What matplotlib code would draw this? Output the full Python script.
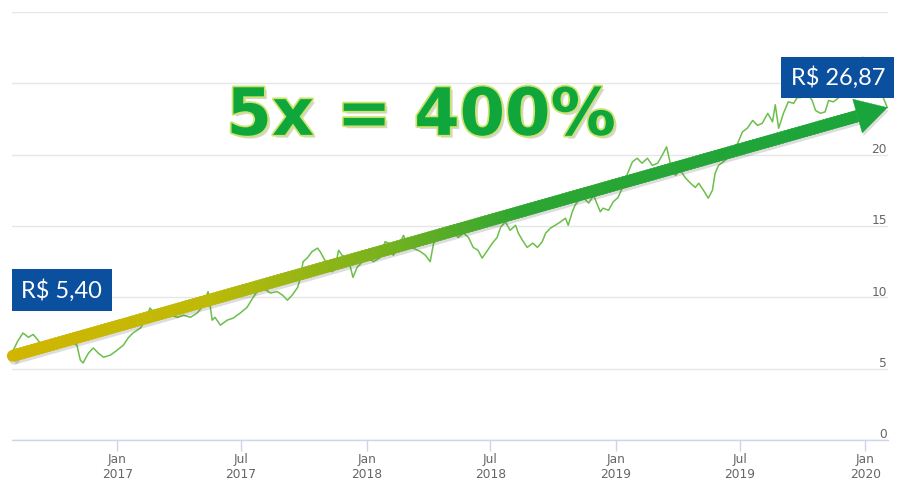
import matplotlib
matplotlib.use("Agg")
import matplotlib.pyplot as plt
import matplotlib.dates as mdates
import matplotlib.patheffects as pe
from matplotlib.transforms import IdentityTransform, blended_transform_factory
from matplotlib.collections import PolyCollection
from matplotlib.patches import Polygon, Circle
import numpy as np
import pandas as pd

dates = [
    "2016-08-01", "2016-08-08", "2016-08-16", "2016-08-24", "2016-08-31", "2016-09-07", "2016-09-15",
    "2016-09-25", "2016-10-05", "2016-10-14", "2016-10-24", "2016-11-03", "2016-11-08", "2016-11-12",
    "2016-11-20", "2016-11-27", "2016-12-04", "2016-12-12", "2016-12-22", "2017-01-01", "2017-01-10",
    "2017-01-17", "2017-01-24", "2017-02-04", "2017-02-11", "2017-02-18", "2017-03-01", "2017-03-09",
    "2017-03-20", "2017-03-30", "2017-04-08", "2017-04-18", "2017-04-28", "2017-05-05", "2017-05-14",
    "2017-05-20", "2017-05-24", "2017-06-01", "2017-06-11", "2017-06-20", "2017-06-30", "2017-07-10",
    "2017-07-19", "2017-07-26", "2017-08-03", "2017-08-13", "2017-08-23", "2017-08-31", "2017-09-07",
    "2017-09-14", "2017-09-22", "2017-09-26", "2017-09-30", "2017-10-06", "2017-10-13", "2017-10-21",
    "2017-10-25", "2017-11-01", "2017-11-06", "2017-11-12", "2017-11-16", "2017-11-21", "2017-11-26",
    "2017-12-01", "2017-12-05", "2017-12-12", "2017-12-18", "2017-12-26", "2018-01-03", "2018-01-11",
    "2018-01-21", "2018-01-28", "2018-02-02", "2018-02-09", "2018-02-16", "2018-02-24", "2018-03-03",
    "2018-03-10", "2018-03-21", "2018-03-28", "2018-04-04", "2018-04-09", "2018-04-16", "2018-04-26",
    "2018-05-08", "2018-05-15", "2018-05-23", "2018-05-30", "2018-06-06", "2018-06-13", "2018-06-19",
    "2018-06-27", "2018-07-04", "2018-07-11", "2018-07-16", "2018-07-23", "2018-07-30", "2018-08-07",
    "2018-08-11", "2018-08-17", "2018-08-24", "2018-09-01", "2018-09-08", "2018-09-15", "2018-09-20",
    "2018-09-27", "2018-10-04", "2018-10-12", "2018-10-19", "2018-10-23", "2018-10-29", "2018-11-02",
    "2018-11-07", "2018-11-14", "2018-11-22", "2018-11-29", "2018-12-05", "2018-12-09", "2018-12-13",
    "2018-12-21", "2018-12-28", "2019-01-04", "2019-01-10", "2019-01-18", "2019-01-25", "2019-02-01",
    "2019-02-08", "2019-02-16", "2019-02-23", "2019-03-03", "2019-03-10", "2019-03-16", "2019-03-22",
    "2019-03-29", "2019-04-05", "2019-04-13", "2019-04-20", "2019-04-27", "2019-05-02", "2019-05-09",
    "2019-05-16", "2019-05-22", "2019-05-26", "2019-05-31", "2019-06-07", "2019-06-14", "2019-06-20",
    "2019-06-28", "2019-07-05", "2019-07-12", "2019-07-20", "2019-07-27", "2019-08-03", "2019-08-11",
    "2019-08-18", "2019-08-22", "2019-08-27", "2019-09-03", "2019-09-10", "2019-09-18", "2019-09-23",
    "2019-09-28", "2019-10-08", "2019-10-15", "2019-10-20", "2019-10-27", "2019-11-03", "2019-11-08",
    "2019-11-15", "2019-11-23", "2019-11-30", "2019-12-07", "2019-12-14", "2019-12-22", "2019-12-28",
    "2020-01-03", "2020-01-12", "2020-01-19", "2020-01-27", "2020-02-02",
]
prices = [
    6.2, 6.9, 7.5, 7.2, 7.4, 7.0, 6.45,
    6.3, 6.45, 6.65, 6.9, 6.65, 5.6, 5.4,
    6.1, 6.45, 6.1, 5.8, 5.95, 6.3, 6.65,
    7.15, 7.5, 7.85, 8.4, 9.25, 8.6, 8.9,
    8.75, 8.6, 8.75, 8.6, 8.9, 9.3, 10.4,
    8.4, 8.6, 8.05, 8.4, 8.55, 8.9, 9.3,
    10.0, 10.5, 10.65, 10.3, 10.4, 10.15, 9.8,
    10.15, 10.7, 11.35, 12.5, 12.75, 13.2, 13.45,
    13.2, 12.6, 11.9, 11.8, 12.1, 13.3, 12.95,
    12.8, 12.75, 11.4, 12.1, 12.5, 12.75, 12.5,
    12.8, 13.9, 13.8, 12.95, 13.5, 14.35, 13.5,
    13.45, 13.2, 12.95, 12.5, 13.8, 14.15, 14.2,
    14.6, 14.2, 14.5, 14.2, 13.5, 13.3, 12.75,
    13.3, 13.8, 14.2, 14.9, 15.3, 14.7, 15.05,
    14.5, 14.0, 13.5, 13.8, 13.5, 13.9, 14.5,
    14.85, 15.05, 15.3, 15.55, 15.05, 16.0, 16.45,
    16.8, 17.0, 16.6, 17.15, 16.45, 16.0, 16.25,
    16.1, 16.7, 17.0, 17.65, 18.7, 19.5, 19.75,
    19.4, 19.75, 19.25, 19.4, 20.0, 20.55, 19.25,
    18.55, 18.9, 18.35, 18.0, 17.7, 18.0, 17.5,
    16.95, 17.5, 18.7, 19.25, 19.5, 19.8, 20.3,
    20.8, 21.6, 21.85, 22.4, 22.05, 22.2, 22.9,
    22.3, 23.5, 21.85, 22.9, 23.7, 23.6, 24.0,
    24.0, 24.3, 23.8, 23.1, 22.9, 23.0, 23.8,
    23.7, 24.0, 24.3, 24.4, 24.0, 25.0, 26.84,
    25.0, 24.6, 24.5, 24.0, 23.3,
]

y_ticks = [0, 5, 10, 15, 20, 25, 30]
y_tick_labels = ["0", "5", "10", "15", "20", "", ""]
x_tick_dates = ["2017-01-01", "2017-07-01", "2018-01-01", "2018-07-01",
                "2019-01-01", "2019-07-01", "2020-01-01"]
x_tick_labels = ["Jan\n2017", "Jul\n2017", "Jan\n2018", "Jul\n2018",
                 "Jan\n2019", "Jul\n2019", "Jan\n2020"]
x_range = ["2016-07-31", "2020-02-03"]
start_label = "R$ 5,40"
end_label = "R$ 26,87"
headline = "5x = 400%"

W, H = 900, 493
fig = plt.figure(figsize=(W / 100, H / 100), dpi=100)
fig.patch.set_facecolor("white")
ax = fig.add_axes([12 / W, 1 - 440 / H, 876 / W, 428 / H])
ax.set_facecolor("white")

x = pd.to_datetime(dates)
ax.plot(x, prices, color="#6cbf4a", lw=1.1, zorder=2)

ax.set_xlim(pd.to_datetime(x_range[0]), pd.to_datetime(x_range[1]))
ax.set_ylim(0, 30)

for s in ["top", "right", "left"]:
    ax.spines[s].set_visible(False)
ax.spines["bottom"].set_color("#ccd6eb")
ax.spines["bottom"].set_linewidth(1)

ax.set_yticks(y_ticks)
ax.yaxis.grid(True, color="#e6e6e6", lw=1)
ax.tick_params(axis="y", length=0, labelleft=False)
ax.set_axisbelow(True)
ytr = blended_transform_factory(ax.transAxes, ax.transData)
for v, lab in zip(y_ticks, y_tick_labels):
    if lab:
        ax.text(0.999, v - 0.1, lab, transform=ytr, ha="right", va="bottom",
                fontsize=8.8, color="#666666")

ax.set_xticks(pd.to_datetime(x_tick_dates))
ax.set_xticklabels(x_tick_labels, fontsize=8.8, color="#666666", linespacing=1.25)
ax.tick_params(axis="x", length=8, width=1, color="#ccd6eb", pad=1)

# ---- gradient arrow from first to last data point ----
fig.canvas.draw()
p0 = ax.transData.transform((mdates.date2num(x[0]), prices[0] - 0.3))
p1 = ax.transData.transform((mdates.date2num(x[-1]), prices[-1]))
d = p1 - p0
Ltot = np.hypot(*d)
u = d / Ltot
n = np.array([-u[1], u[0]])
head_len, head_hw, shaft_hw = 31.0, 17.5, 5.8
base = p1 - head_len * u

stops = np.array([0.0, 0.22, 0.42, 0.58, 1.0])
cols = np.array([[208, 182, 0], [190, 186, 8], [120, 178, 30], [45, 166, 50], [25, 165, 60]]) / 255.0

def colat(t):
    return np.array([np.interp(t, stops, cols[:, k]) for k in range(3)])

# shadow
shadow_off = np.array([1.5, -3.0])
shaft_poly = [p0 + n * shaft_hw, base + n * shaft_hw, base + n * head_hw, p1,
              base - n * head_hw, base - n * shaft_hw, p0 - n * shaft_hw]
sh = Polygon([pt + shadow_off for pt in shaft_poly], closed=True, facecolor="#555555",
             edgecolor="none", alpha=0.2, transform=IdentityTransform(), zorder=3, clip_on=False)
ax.add_artist(sh)
shc = Circle(p0 + shadow_off, shaft_hw, facecolor="#555555", edgecolor="none", alpha=0.2,
             transform=IdentityTransform(), zorder=3, clip_on=False)
ax.add_artist(shc)

N = 220
seg_len = (Ltot - head_len)
polys, fcs = [], []
for i in range(N):
    t0, t1 = i / N, (i + 1) / N
    a = p0 + u * seg_len * t0
    b = p0 + u * seg_len * min(1.0, t1 + 0.003)
    polys.append([a + n * shaft_hw, b + n * shaft_hw, b - n * shaft_hw, a - n * shaft_hw])
    fcs.append(colat(t0 * seg_len / Ltot))
pc = PolyCollection(polys, facecolors=fcs, edgecolors=fcs, linewidths=0.3,
                    transform=IdentityTransform(), zorder=4, clip_on=False)
ax.add_artist(pc)
cap = Circle(p0, shaft_hw, facecolor=colat(0.0), edgecolor="none",
             transform=IdentityTransform(), zorder=4, clip_on=False)
ax.add_artist(cap)
head = Polygon([base + n * head_hw, p1, base - n * head_hw], closed=True,
               facecolor=colat(1.0), edgecolor=colat(1.0), lw=0.3,
               transform=IdentityTransform(), zorder=4, clip_on=False)
ax.add_artist(head)

# ---- headline ----
ax.text(0.467, 0.755, headline, transform=ax.transAxes, ha="center", va="center",
        fontsize=47, fontweight="bold", family="DejaVu Sans", color="#0fa63c", zorder=6,
        path_effects=[pe.SimplePatchShadow(offset=(2.0, -2.0), shadow_rgbFace="#888888", alpha=0.35),
                      pe.Stroke(linewidth=2.5, foreground="#cde46c"), pe.Normal()])

# ---- value labels ----
box = dict(boxstyle="square,pad=0.4", facecolor="#0b4f9f", edgecolor="none")
ax.text(0.0105, 0.350, start_label, transform=ax.transAxes, ha="left", va="center",
        fontsize=17, family="Lato", color="white", bbox=box, zorder=7, clip_on=False)
ax.text(0.9966, 0.847, end_label, transform=ax.transAxes, ha="right", va="center",
        fontsize=17, family="Lato", color="white", bbox=box, zorder=7, clip_on=False)

fig.savefig("out.png", dpi=100, facecolor="white")
